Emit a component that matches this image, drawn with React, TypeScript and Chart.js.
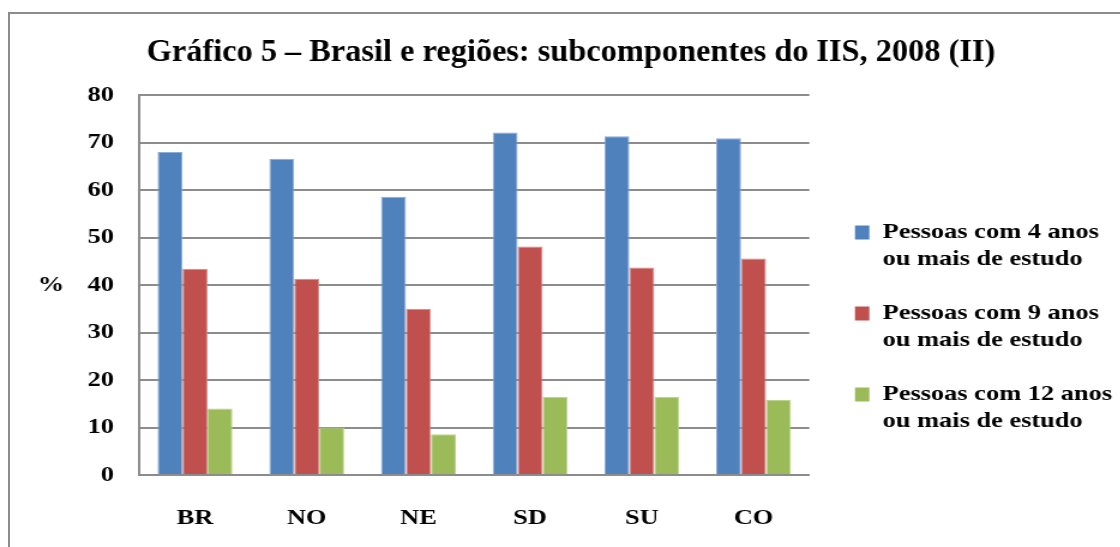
import React, { useEffect, useRef } from 'react';
import { Chart, registerables } from 'chart.js';

Chart.register(...registerables);

const TITLE = 'Gráfico 5 – Brasil e regiões: subcomponentes do IIS, 2008 (II)';
const CATEGORIES = ['BR', 'NO', 'NE', 'SD', 'SU', 'CO'];
const SERIES_LABELS = [
  'Pessoas com 4 anos ou mais de estudo',
  'Pessoas com 9 anos ou mais de estudo',
  'Pessoas com 12 anos ou mais de estudo',
];
const FOUR_YEARS = [68.0, 66.6, 58.6, 72.1, 71.3, 70.9];
const NINE_YEARS = [43.4, 41.3, 35.0, 48.1, 43.7, 45.6];
const TWELVE_YEARS = [14.0, 10.0, 8.6, 16.5, 16.5, 15.8];
const Y_TICKS = [0, 10, 20, 30, 40, 50, 60, 70, 80];
const Y_TITLE = '%';
const COLORS = ['#4F81BD', '#C0504D', '#9BBB59'];
const EDGE_COLORS = ['#8eaad6', '#d48a88', '#bcd38f'];

const FONT = '"Liberation Serif", "Times New Roman", serif';
const STRETCH = 1.2;
const CW = 937;
const CH = 547;
const PAD_LEFT = 15;

const textPlugin = {
  id: 'extraText',
  afterDraw(chart: any) {
    const { ctx, chartArea } = chart;
    const y = chart.scales.y;
    ctx.save();
    // "%" axis title, horizontal
    ctx.font = `bold 22px ${FONT}`;
    ctx.fillStyle = '#000';
    ctx.textAlign = 'center';
    ctx.textBaseline = 'middle';
    ctx.fillText(Y_TITLE, y.left + 27.5, (chartArea.top + chartArea.bottom) / 2);
    // chart title (narrower than the stretched canvas)
    ctx.translate((PAD_LEFT + chart.width) / 2, 53);
    ctx.scale(0.87, 1);
    ctx.font = `bold 31px ${FONT}`;
    ctx.fillText(TITLE, 0, 0);
    ctx.restore();
  },
};

export default function App() {
  const ref = useRef<HTMLCanvasElement>(null);

  useEffect(() => {
    if (!ref.current) return;
    const series = [FOUR_YEARS, NINE_YEARS, TWELVE_YEARS];
    const chart = new Chart(ref.current, {
      type: 'bar',
      data: {
        labels: CATEGORIES,
        datasets: series.map((d, i) => ({
          label: SERIES_LABELS[i],
          data: d,
          backgroundColor: COLORS[i],
          borderColor: EDGE_COLORS[i],
          borderWidth: { top: 1, left: 1, right: 1, bottom: 0 },
          borderSkipped: 'start',
          barPercentage: 1,
          categoryPercentage: 0.67,
          yAxisID: 'y',
        })),
      },
      options: {
        responsive: false,
        animation: false,
        devicePixelRatio: 1,
        layout: { padding: { left: PAD_LEFT, right: 0, top: 95, bottom: 15.6 } },
        plugins: {
          title: { display: false },
          legend: {
            display: true,
            position: 'right',
            align: 'center',
            maxWidth: 300,
            title: {
              display: true,
              text: ' ',
              font: { size: 10, lineHeight: 1.2 },
              padding: { top: 20.6, bottom: 0 },
            },
            labels: {
              boxWidth: 12,
              boxHeight: 14,
              padding: 27,
              color: '#000',
              font: { family: FONT, size: 22, weight: 'bold', lineHeight: 27 / 22 },
              generateLabels: (c: any) =>
                c.data.datasets.map((ds: any, i: number) => {
                  const parts = String(ds.label).split(' ou ');
                  return {
                    text: [parts[0], 'ou ' + parts[1]],
                    fillStyle: ds.backgroundColor,
                    strokeStyle: ds.backgroundColor,
                    lineWidth: 0,
                    hidden: false,
                    datasetIndex: i,
                    fontColor: '#000',
                  };
                }),
            },
          },
          tooltip: { enabled: false },
        },
        scales: {
          x: {
            grid: { display: false, drawTicks: false },
            border: { display: true, color: '#8c8c8c', width: 2 },
            afterFit: (s: any) => {
              s.height = 56.4;
            },
            ticks: {
              color: '#000',
              padding: 30,
              font: { family: FONT, size: 22, weight: 'bold' },
            },
          },
          y: {
            min: 0,
            max: 80,
            afterBuildTicks: (s: any) => {
              s.ticks = Y_TICKS.map((v) => ({ value: v }));
            },
            afterFit: (s: any) => {
              s.width = 101;
            },
            grid: { color: '#8c8c8c', lineWidth: 2, drawTicks: false },
            border: { display: true, color: '#8c8c8c', width: 2 },
            ticks: {
              color: '#000',
              padding: 21,
              font: { family: FONT, size: 22, weight: 'bold' },
            },
          },
          y2: {
            position: 'right',
            display: true,
            grid: { display: false, drawTicks: false },
            border: { display: false },
            ticks: { display: false },
            afterFit: (s: any) => {
              s.width = 11;
            },
          },
        },
      },
      plugins: [textPlugin],
    } as any);
    return () => chart.destroy();
  }, []);

  return (
    <div
      style={{
        position: 'absolute',
        left: 0,
        top: 0,
        width: 1120,
        height: 547,
        overflow: 'hidden',
        background: '#fff',
      }}
    >
      <div
        style={{
          position: 'absolute',
          left: 8,
          top: 12,
          width: 2000,
          height: 1000,
          border: '2px solid #8c8c8c',
          boxSizing: 'border-box',
        }}
      />
      <canvas
        ref={ref}
        width={CW}
        height={CH}
        style={{
          position: 'absolute',
          left: 0,
          top: 0,
          width: `${CW * STRETCH}px`,
          height: `${CH}px`,
        }}
      />
    </div>
  );
}
